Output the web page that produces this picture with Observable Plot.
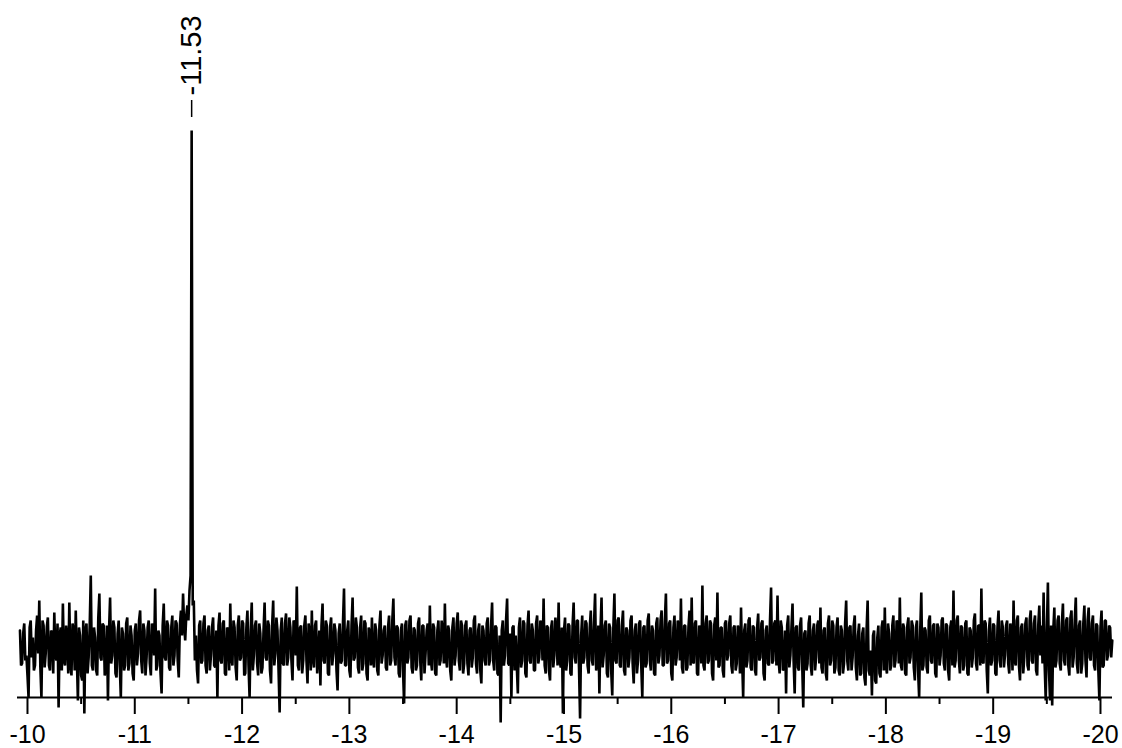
<!DOCTYPE html>
<html>
<head>
<meta charset="utf-8">
<script src="https://cdn.jsdelivr.net/npm/d3@7"></script>
<script src="https://cdn.jsdelivr.net/npm/@observablehq/plot@0.6"></script>
<style>
  html, body { margin: 0; padding: 0; background: #fff; }
  #chart { width: 1122px; height: 748px; overflow: hidden; }
</style>
</head>
<body>
<div id="chart"></div>
<script>
// Spectrum sampling grid (ppm): first point and spacing of the "A" samples;
// the "B" samples lie halfway between consecutive "A" samples.
const ppmStart = -9.93;
const ppmStep = -0.02;

// Intensities (arbitrary units, baseline = 0)
const intensityA = [
  15, -18, 22, -10, -52, 25, 8, -20, 30, 45,
  -52, 20, -8, 28, -25, 12, 33, -15, -62, 18,
  42, -20, 5, 43, -30, 15, 35, -55, 10, -35,
  -68, 22, -12, 70, -25, 8, -30, 52, -15, 20,
  -22, -55, 48, -10, 18, -32, 25, -52, 12, -20,
  28, -18, 10, -35, 22, -8, 35, -28, 15, -12,
  25, -30, 18, 57, -20, 10, -48, 42, -15, 20,
  -25, 30, -10, 22, -32, 35, 52, 5, 40, 55,
  515, 45, 10, -38, 25, -15, 30, -28, 20, -10,
  28, -22, -52, 33, -18, 25, -30, 15, 42, -20,
  18, -35, 30, -12, 22, -28, 35, -52, 43, -10,
  25, -30, 12, -22, 43, -15, 20, -38, 45, -8,
  15, -67, 28, -20, 32, -12, 18, -35, 22, 59,
  -25, 20, -15, 30, -38, 12, 35, -22, 25, -10,
  -40, 42, -18, 20, -30, 28, -8, 15, -45, 22,
  -15, 57, -20, 25, -32, 48, -12, 18, -28, 30,
  -18, 22, -35, 12, 28, -22, 15, -30, 35, -10,
  20, -25, 30, -15, 47, -20, 18, -32, 22, -58,
  25, -12, 30, -28, 15, -20, 28, -35, 20, -8,
  22, 40, -25, 18, -30, 25, -15, 12, 42, -22,
  15, -35, 28, -10, 33, -25, 20, -18, 25, -30,
  18, -12, 30, -28, 22, -38, 15, -20, 28, -15,
  43, -25, 18, -30, -77, 25, -10, 47, -20, -52,
  20, 10, -48, 28, -15, 22, -32, 35, -18, 15,
  -25, 30, -12, 20, 47, -28, 18, -35, 25, -10,
  15, 43, -22, -68, 28, -15, 20, -30, 43, -18,
  25, -73, 30, -12, 22, -28, 35, -20, 52, -15,
  -48, 48, -10, 25, -32, 18, -50, 52, -18, 28,
  -22, 35, -30, 15, -12, 30, -38, 22, -15, 25,
  -52, 20, -18, 32, -25, 15, -30, 28, -10, 35,
  -20, 52, -15, 25, -35, 30, -12, 18, 47, -28,
  20, -22, 35, 48, -18, 25, -30, 15, 60, -25,
  30, -15, 22, -35, 28, 53, -20, 18, -32, 25,
  -10, 30, -28, 20, -18, 15, 38, -52, 22, -15,
  28, -25, 18, -30, 32, -12, 25, -35, 20, -20,
  58, -15, 25, 50, -28, 18, -22, -48, 30, -10,
  42, -48, 20, -25, 28, -62, 15, -18, 30, -30,
  22, -12, 25, 38, -28, 18, -35, 30, -15, 20,
  -22, 28, -30, 15, -18, 45, -25, 20, -12, 30,
  -35, 22, -28, 18, -40, 45, -30, -50, 15, -38,
  20, -32, 25, 38, -28, 12, -20, 30, -15, 22,
  48, -25, 18, -30, 28, -12, 20, -35, 25, -52,
  53, -20, 15, -28, 30, -18, 22, -32, 18, -10,
  28, -25, 20, -35, 25, 55, -15, 30, -28, 18,
  -20, 25, -30, 15, -12, 32, -25, 20, 57, -18,
  22, -48, 28, -15, 20, -30, 35, -22, 18, -10,
  25, -28, 15, 45, -20, 30, -35, 22, -12, 28,
  -25, 35, -18, 30, -30, 40, 20, 53, -55, 63,
  -55, -60, 38, -15, 30, -25, 42, -20, 28, -30,
  35, -12, 48, -28, 25, -18, 40, -32, 38, -15,
  30, -25, 20, -55, 35, -20, 25, -10, 18, 5
];

const intensityB = [
  -20, 12, -15, -30, 18, -12, -25, 15, -8, -22,
  25, -22, 18, -20, 15, -28, -10, 22, 10, -25,
  -15, 20, -28, -18, 22, -25, -12, 18, -30, 25,
  15, -28, 20, -20, 18, -25, 28, -12, 22, -30,
  20, 15, -18, 25, -28, 12, -20, 18, -25, 22,
  -25, 20, -28, 15, -20, 25, -15, 22, -30, 18,
  -18, 22, -10, -25, 15, -28, 20, -12, 25, -22,
  18, -20, 25, -15, 20, 10, 20, 30, 25, 70,
  40, -15, -25, 20, -18, 22, -20, 15, -25, 18,
  -20, 15, 20, -15, 22, -28, 18, -25, -12, 25,
  -22, 20, -15, 25, -30, 18, -20, 15, -25, 20,
  -18, 22, -28, 15, -12, 25, -25, 20, -20, 28,
  -25, 15, -18, 22, -20, 28, -15, 25, -10, -20,
  18, -28, 20, -15, 22, -25, -12, 20, -28, 15,
  20, -15, 25, -28, 18, -20, 22, -25, 12, -18,
  22, -20, 15, -25, 20, -15, 28, -22, 18, -25,
  25, -28, 18, -20, -15, 22, -25, 20, -18, 15,
  -22, 18, -20, 25, -12, 20, -28, 15, -25, 20,
  -18, 25, -22, 18, -25, 22, -15, 20, -28, 15,
  -20, -15, 22, -28, 15, -20, 25, -18, -12, 20,
  -25, 18, -20, 22, -15, 25, -28, 20, -18, 15,
  -22, 25, -18, 15, -25, 20, -15, 22, -20, 18,
  -15, 20, -28, 10, 15, -20, 25, -18, 12, 18,
  -25, -20, 18, -22, 25, -28, 20, -15, 22, -25,
  22, -18, 25, -15, -20, 20, -25, 18, -22, 28,
  -20, -15, 18, 15, -25, 22, -28, 20, -12, 25,
  -22, 10, -18, 25, -20, 18, -15, 22, -25, 20,
  15, -22, 20, -28, 22, -25, 18, -15, 25, -20,
  20, -25, 18, -22, 25, -18, 15, -28, 22, -20,
  18, -22, 25, -15, 20, -28, 22, -18, 25, -20,
  25, -18, 22, -28, 18, -20, 25, -15, -22, 20,
  -25, 18, -20, -15, 22, -28, 20, -18, -20, 22,
  -18, 25, -28, 20, -15, -22, 18, -25, 22, -15,
  22, -20, 18, -25, 20, -28, -12, 15, -22, 25,
  -22, 20, -25, 18, -15, 22, -28, 15, -18, 25,
  -18, 22, -20, -15, 25, -25, 15, 20, -22, 18,
  -15, 18, -22, 20, -18, 12, -25, 22, -20, 15,
  -25, 20, -18, -22, 15, -28, 22, -20, 25, -28,
  18, -25, 20, -28, 22, -15, 18, -25, 20, -22,
  10, -30, 12, -32, 15, -25, -5, 10, -35, 8,
  -28, 18, -25, -20, 22, -25, 20, -22, 25, -18,
  -20, 22, -28, 20, -18, 25, -22, 18, -25, 15,
  -25, 18, -22, 25, -15, 20, -28, 22, -20, 25,
  -18, 22, -25, 18, -20, -22, 25, -15, 20, -25,
  22, -28, 18, -22, 25, -18, 20, -20, -15, 25,
  -25, 15, -20, 22, -28, 18, -15, 25, -22, 20,
  -18, 22, -25, -15, 25, -20, 18, -28, 22, -20,
  25, -15, 22, -25, 20, -10, -18, -20, 15, -25,
  20, 15, -22, 25, -18, 22, -15, 25, -20, 28,
  -22, 25, -18, 20, -28, 22, -15, 25, -12, 22,
  -20, 22, -25, 18, -22, 25, -15, 20, -12
];

// Axis ticks (ppm)
const majorTicks = [-10, -11, -12, -13, -14, -15, -16, -17, -18, -19, -20];
const minorTicks = [-10.5, -11.5, -12.5, -13.5, -14.5, -15.5, -16.5, -17.5, -18.5, -19.5];

// Peak annotation
const peaks = [{ppm: -11.53, label: "-11.53"}];

const spectrum = [];
intensityA.forEach((v, i) => {
  spectrum.push({ppm: ppmStart + ppmStep * i, v});
  if (i < intensityB.length) spectrum.push({ppm: ppmStart + ppmStep * (i + 0.5), v: intensityB[i]});
});

const font = "'Liberation Sans', Arial, Helvetica, sans-serif";

const chart = Plot.plot({
  width: 1122,
  height: 748,
  marginLeft: 17,
  marginRight: 10,
  marginTop: 0,
  marginBottom: 51,
  style: {fontFamily: font, background: "#fff", color: "#000"},
  x: {domain: [-9.907, -20.112], axis: null, label: null},
  y: {domain: [-52, 645], axis: null, label: null},
  marks: [
    Plot.ruleY([-52], {stroke: "#000", strokeWidth: 2}),
    Plot.axisX(minorTicks, {tickSize: 7, tickFormat: () => "", label: null, stroke: "#000", strokeWidth: 2}),
    Plot.axisX(majorTicks, {tickSize: 17, tickPadding: 11, fontSize: 25, label: null, tickFormat: d => String(d), stroke: "#000", strokeWidth: 2, fill: "#000"}),
    Plot.line(spectrum, {x: "ppm", y: "v", stroke: "#000", strokeWidth: 2.6, strokeLinejoin: "bevel"}),
    Plot.ruleX(peaks, {x: "ppm", y1: 528, y2: 545, stroke: "#000", strokeWidth: 1.5}),
    Plot.text(peaks, {x: "ppm", y: 550, text: "label", rotate: -90, textAnchor: "start", lineAnchor: "middle", fontSize: 29, fill: "#000"})
  ]
});

document.getElementById("chart").appendChild(chart);
</script>
</body>
</html>
